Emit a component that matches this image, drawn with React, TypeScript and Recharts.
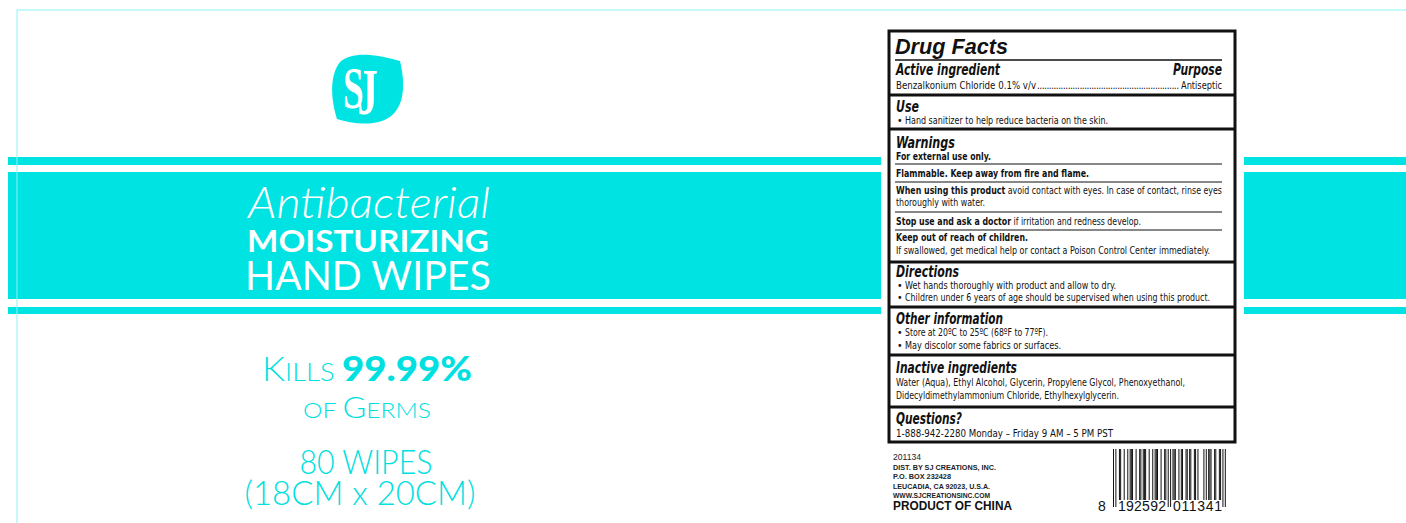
import React from 'react';
import { ComposedChart, XAxis, YAxis, ReferenceArea, ReferenceLine, BarChart, Bar, Cell } from 'recharts';

// ---- data ----
const BARCODE_DIGITS = ['8', '192592', '011341'];
const BARCODE_GROUPS = [
  '101',
  '0011001', '0010111', '0010011', '0111001', '0010111', '0010011',
  '01010',
  '1110010', '1100110', '1100110', '1000010', '1011100', '1100110',
  '101',
];
const GUARD_GROUPS = [0, 7, 14];
const BAR_LEN = { normal: 51, guard: 58 };

const barcodeData = (() => {
  const out: { m: number; h: number; on: number }[] = [];
  let i = 0;
  BARCODE_GROUPS.forEach((g, gi) => {
    for (const ch of g) {
      const on = ch === '1' ? 1 : 0;
      out.push({ m: i++, on, h: on ? (GUARD_GROUPS.includes(gi) ? BAR_LEN.guard : BAR_LEN.normal) : 0 });
    }
  });
  return out;
})();

// ---- layout ----
const W = 1406;
const H = 523;
const TEAL = '#00E3E3';
const TEXT_TEAL = '#00E0E0';
const BAND_ROWS = [
  [157, 165],
  [172, 299],
  [307, 314],
];
const BAND_SPANS = [
  [8, 881],
  [1244, 1406],
];
const BOX = { x1: 889, x2: 1235, y1: 31, y2: 442 };
const THICK_RULES = [95, 129, 262, 307, 355, 407];
const THIN_RULES = [164, 182, 212, 230];

const NARROW = "'Liberation Sans Narrow', 'Arial Narrow', 'DejaVu Sans Condensed', sans-serif";
const SANS = "'Liberation Sans', Arial, sans-serif";
const LATO = "Lato, 'Open Sans', sans-serif";
const SERIF = "'Liberation Serif', 'DejaVu Serif', serif";

function Background() {
  return (
    <ComposedChart width={W} height={H} data={[{ x: 0, y: 0 }, { x: W, y: H }]} margin={{ top: 0, right: 0, bottom: 0, left: 0 }}>
      <XAxis type="number" dataKey="x" domain={[0, W]} hide allowDataOverflow />
      <YAxis type="number" dataKey="y" domain={[0, H]} reversed hide allowDataOverflow />
      <ReferenceLine segment={[{ x: 17, y: 10 }, { x: W, y: 10 }]} stroke="#8CF2F2" strokeWidth={1} ifOverflow="visible" />
      <ReferenceLine segment={[{ x: 17, y: 10 }, { x: 17, y: H }]} stroke="#8CF2F2" strokeWidth={1} ifOverflow="visible" />
      {BAND_SPANS.map(([a, b], si) =>
        BAND_ROWS.map(([t, u], ri) => (
          <ReferenceArea key={`b${si}-${ri}`} x1={a} x2={b} y1={t} y2={u} fill={TEAL} fillOpacity={1} stroke="none" ifOverflow="visible" />
        ))
      )}
      <ReferenceArea x1={BOX.x1} x2={BOX.x2} y1={BOX.y1} y2={BOX.y2} fill="#fff" fillOpacity={0} stroke="#111" strokeWidth={3} ifOverflow="visible" />
      <ReferenceLine segment={[{ x: 895, y: 60 }, { x: 1222, y: 60 }]} stroke="#111" strokeWidth={1.5} ifOverflow="visible" />
      {THICK_RULES.map((y) => (
        <ReferenceLine key={`t${y}`} segment={[{ x: BOX.x1, y }, { x: BOX.x2, y }]} stroke="#111" strokeWidth={3} ifOverflow="visible" />
      ))}
      {THIN_RULES.map((y) => (
        <ReferenceLine key={`n${y}`} segment={[{ x: 895, y }, { x: 1222, y }]} stroke="#111" strokeWidth={1.2} ifOverflow="visible" />
      ))}
    </ComposedChart>
  );
}

function Barcode() {
  return (
    <div style={{ position: 'absolute', left: 1113, top: 449 }}>
      <BarChart width={113} height={58} data={barcodeData} margin={{ top: 0, right: 0, bottom: 0, left: 0 }} barCategoryGap={0} barGap={0}>
        <XAxis dataKey="m" hide />
        <YAxis domain={[0, BAR_LEN.guard]} reversed hide />
        <Bar dataKey="h" isAnimationActive={false} fill="#111">
          {barcodeData.map((d) => (
            <Cell key={d.m} fill={d.on ? '#111' : 'none'} />
          ))}
        </Bar>
      </BarChart>
    </div>
  );
}

type TP = { x: number; y: number; e?: number; children: React.ReactNode };

function Body({ x, y, e, children }: TP) {
  return (
    <text x={x} y={y} fontFamily={NARROW} fontSize={10.5} fill="#111" textLength={e ? e - x : undefined} lengthAdjust="spacingAndGlyphs">
      {children}
    </text>
  );
}
function Head({ x, y, e, children }: TP) {
  return (
    <text x={x} y={y} fontFamily={NARROW} fontSize={15} fontWeight={700} fontStyle="italic" fill="#111" textLength={e ? e - x : undefined} lengthAdjust="spacingAndGlyphs">
      {children}
    </text>
  );
}
function Bold({ x, y, e, children }: TP) {
  return (
    <text x={x} y={y} fontFamily={NARROW} fontSize={10.5} fontWeight={700} fill="#111" textLength={e ? e - x : undefined} lengthAdjust="spacingAndGlyphs">
      {children}
    </text>
  );
}
function Small({ x, y, e, children }: TP) {
  return (
    <text x={x} y={y} fontFamily={SANS} fontSize={8} fontWeight={700} fill="#222" textLength={e ? e - x : undefined} lengthAdjust="spacingAndGlyphs">
      {children}
    </text>
  );
}

function Overlay() {
  const bx = 896;
  const ix = 905;
  return (
    <svg width={W} height={H} style={{ position: 'absolute', left: 0, top: 0 }}>
      {/* logo */}
      <path d="M 400 61 C 405 82 407 112 382 121 C 366 126 350 123 337 119 C 331 100 329 76 340 62 C 352 51 376 54 400 61 Z" fill={TEAL} />
      <g transform="translate(343 108) scale(0.62 1)">
        <text x={0} y={0} fontFamily={SERIF} fontWeight={700} fontSize={60} fill="#fff">
          S<tspan dx={-10} dy={6} fontSize={66}>J</tspan>
        </text>
      </g>

      {/* left headline */}
      <text fontFamily={LATO} fill="#fff" textAnchor="middle">
        <tspan x={369} y={218} fontWeight={300} fontStyle="italic" fontSize={43} textLength={242} lengthAdjust="spacingAndGlyphs">Antibacterial</tspan>
        <tspan x={368} y={252} fontWeight={700} fontSize={31} textLength={242} lengthAdjust="spacingAndGlyphs">MOISTURIZING</tspan>
        <tspan x={368} y={290} fontWeight={400} fontSize={41} textLength={246} lengthAdjust="spacingAndGlyphs">HAND WIPES</tspan>
      </text>

      <text x={367} y={381} textAnchor="middle" fontFamily={LATO} fill={TEXT_TEAL} textLength={210} lengthAdjust="spacingAndGlyphs">
        <tspan fontSize={33} fontWeight={300}>K</tspan>
        <tspan fontSize={25} fontWeight={300}>ILLS </tspan>
        <tspan fontSize={35} fontWeight={900}>99.99%</tspan>
      </text>
      <text x={367} y={418} textAnchor="middle" fontFamily={LATO} fill={TEXT_TEAL} fontWeight={300} textLength={128} lengthAdjust="spacingAndGlyphs">
        <tspan fontSize={22}>OF </tspan>
        <tspan fontSize={29}>G</tspan>
        <tspan fontSize={22}>ERMS</tspan>
      </text>
      <text fontFamily={LATO} fontWeight={300} fontSize={33} fill={TEXT_TEAL} textAnchor="middle">
        <tspan x={366} y={474} textLength={133} lengthAdjust="spacingAndGlyphs">80 WIPES</tspan>
        <tspan x={360} y={505} textLength={231} lengthAdjust="spacingAndGlyphs">(18CM x 20CM)</tspan>
      </text>

      {/* Drug facts */}
      <text x={895} y={54} fontFamily={SANS} fontWeight={700} fontStyle="italic" fontSize={21.5} fill="#111" textLength={113} lengthAdjust="spacingAndGlyphs">Drug Facts</text>
      <Head x={bx} y={75} e={1000}>Active ingredient</Head>
      <Head x={1173} y={75} e={1222}>Purpose</Head>
      <Body x={bx} y={89} e={1036}>Benzalkonium Chloride 0.1% v/v</Body>
      <text x={1037} y={89} fontFamily={NARROW} fontSize={10} fill="#111" textLength={142} lengthAdjust="spacing">{'.'.repeat(60)}</text>
      <Body x={1181} y={89} e={1222}>Antiseptic</Body>

      <Head x={bx} y={112} e={919}>Use</Head>
      <Body x={897} y={124}>•</Body>
      <Body x={ix} y={124} e={1108}>Hand sanitizer to help reduce bacteria on the skin.</Body>

      <Head x={bx} y={148} e={955}>Warnings</Head>
      <Bold x={bx} y={160} e={991}>For external use only.</Bold>
      <Bold x={bx} y={177} e={1089}>Flammable. Keep away from fire and flame.</Bold>
      <text x={bx} y={194} fontFamily={NARROW} fontSize={10.5} fill="#111" textLength={1222 - bx} lengthAdjust="spacingAndGlyphs">
        <tspan fontWeight={700}>When using this product</tspan>
        <tspan> avoid contact with eyes. In case of contact, rinse eyes</tspan>
      </text>
      <Body x={bx} y={206} e={985}>thoroughly with water.</Body>
      <text x={bx} y={225} fontFamily={NARROW} fontSize={10.5} fill="#111" textLength={1141 - bx} lengthAdjust="spacingAndGlyphs">
        <tspan fontWeight={700}>Stop use and ask a doctor</tspan>
        <tspan> if irritation and redness develop.</tspan>
      </text>
      <Bold x={bx} y={241} e={1028}>Keep out of reach of children.</Bold>
      <Body x={bx} y={254} e={1210}>If swallowed, get medical help or contact a Poison Control Center immediately.</Body>

      <Head x={bx} y={277} e={959}>Directions</Head>
      <Body x={897} y={289}>•</Body>
      <Body x={ix} y={289} e={1116}>Wet hands thoroughly with product and allow to dry.</Body>
      <Body x={897} y={301}>•</Body>
      <Body x={ix} y={301} e={1210}>Children under 6 years of age should be supervised when using this product.</Body>

      <Head x={bx} y={324} e={1003}>Other information</Head>
      <Body x={897} y={336}>•</Body>
      <Body x={ix} y={336} e={1048}>Store at 20ºC to 25ºC (68ºF to 77ºF).</Body>
      <Body x={897} y={349}>•</Body>
      <Body x={ix} y={349} e={1061}>May discolor some fabrics or surfaces.</Body>

      <Head x={bx} y={373} e={1017}>Inactive ingredients</Head>
      <Body x={bx} y={386} e={1185}>Water (Aqua), Ethyl Alcohol, Glycerin, Propylene Glycol, Phenoxyethanol,</Body>
      <Body x={bx} y={399} e={1119}>Didecyldimethylammonium Chloride, Ethylhexylglycerin.</Body>

      <Head x={bx} y={424} e={962}>Questions?</Head>
      <Body x={bx} y={437} e={1113}>1-888-942-2280   Monday – Friday 9 AM – 5 PM PST</Body>

      {/* bottom left */}
      <text x={893} y={459.5} fontFamily={SANS} fontSize={9.5} fill="#222" textLength={28} lengthAdjust="spacingAndGlyphs">201134</text>
      <Small x={893} y={469.5} e={996}>DIST. BY SJ CREATIONS, INC.</Small>
      <Small x={893} y={479} e={951}>P.O. BOX 232428</Small>
      <Small x={893} y={488.5} e={990}>LEUCADIA, CA 92023, U.S.A.</Small>
      <Small x={893} y={498} e={990}>WWW.SJCREATIONSINC.COM</Small>
      <text x={893} y={510} fontFamily={SANS} fontSize={12} fontWeight={700} fill="#111" textLength={119} lengthAdjust="spacingAndGlyphs">PRODUCT OF CHINA</text>

      {/* barcode digits */}
      <text x={1098} y={511} fontFamily={SANS} fontSize={14} fill="#111">{BARCODE_DIGITS[0]}</text>
      <text x={1118} y={511} fontFamily={SANS} fontSize={14} fill="#111" textLength={48} lengthAdjust="spacing">{BARCODE_DIGITS[1]}</text>
      <text x={1173} y={511} fontFamily={SANS} fontSize={14} fill="#111" textLength={49} lengthAdjust="spacing">{BARCODE_DIGITS[2]}</text>
    </svg>
  );
}

export default function App() {
  return (
    <div style={{ position: 'relative', width: W, height: H, background: '#fff', overflow: 'hidden' }}>
      <style>{'body{margin:0}'}</style>
      <div style={{ position: 'absolute', left: 0, top: 0 }}>
        <Background />
      </div>
      <Barcode />
      <Overlay />
    </div>
  );
}
